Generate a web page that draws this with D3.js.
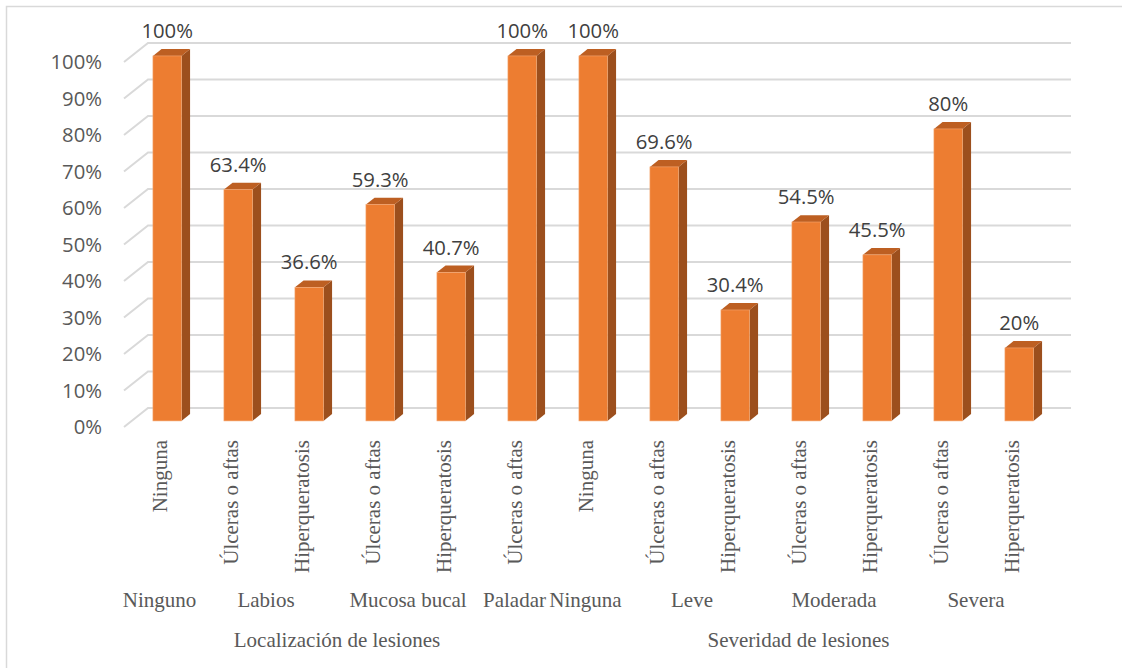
<!DOCTYPE html>
<html>
<head>
<meta charset="utf-8">
<script src="https://cdn.jsdelivr.net/npm/d3@7.9.0/dist/d3.min.js"></script>
<style>
  body { margin: 0; background: #fff; }
  svg { display: block; }
</style>
</head>
<body>
<svg width="1122" height="668"></svg>
<script>
const categories = ['Ninguna', 'Úlceras o aftas', 'Hiperqueratosis', 'Úlceras o aftas', 'Hiperqueratosis',
  'Úlceras o aftas', 'Ninguna', 'Úlceras o aftas', 'Hiperqueratosis', 'Úlceras o aftas',
  'Hiperqueratosis', 'Úlceras o aftas', 'Hiperqueratosis'];
const values = [100, 63.4, 36.6, 59.3, 40.7, 100, 100, 69.6, 30.4, 54.5, 45.5, 80, 20];
const subNames = ['Ninguno', 'Labios', 'Mucosa bucal', 'Paladar', 'Ninguna', 'Leve', 'Moderada', 'Severa'];
const subSizes = [1, 2, 2, 1, 1, 2, 2, 2];
const groupNames = ['Localización de lesiones', 'Severidad de lesiones'];
const groupSizes = [6, 7];
const yTicks = [0, 10, 20, 30, 40, 50, 60, 70, 80, 90, 100];

const svg = d3.select('svg');

// outer frame
svg.append('rect')
  .attr('x', 6.5).attr('y', 6.5).attr('width', 1130).attr('height', 680)
  .attr('fill', 'none').attr('stroke', '#d9d9d9').attr('stroke-width', 1.5);

// 3d depth of floor (front edge -> back wall)
const DX = 24, DY = 19;
const barF0 = 0.32, barF1 = 0.68;

const x = d3.scaleBand()
  .domain(d3.range(categories.length))
  .range([124, 1047]);
const y = d3.scaleLinear().domain([0, 100]).range([427, 62]);

const barW = 28.5;

// gridlines: diagonal on the side wall + horizontal on back wall
const grid = svg.append('g');
yTicks.forEach(t => {
  const yf = y(t);
  grid.append('polyline')
    .attr('points', `${x.range()[0]},${yf} ${x.range()[0] + DX},${yf - DY} ${x.range()[1] + DX},${yf - DY}`)
    .attr('fill', 'none').attr('stroke', '#d9d9d9').attr('stroke-width', 2);
});

// y tick labels
svg.append('g').selectAll('text')
  .data(yTicks)
  .join('text')
  .attr('x', 102).attr('y', d => y(d))
  .attr('dy', '0.35em')
  .attr('text-anchor', 'end')
  .attr('font-family', 'Open Sans, sans-serif')
  .attr('font-size', 20.3)
  .attr('fill', '#595959')
  .text(d => d + '%');

// bars
const bars = svg.append('g');
values.forEach((v, i) => {
  const cx = x(i) + x.bandwidth() / 2;
  const x0 = cx - barW / 2 + barF0 * DX;
  const x1 = x0 + barW;
  const yb = y(0) - barF0 * DY;
  const yt = y(v) - barF0 * DY;
  const dx = (barF1 - barF0) * DX, dy = (barF1 - barF0) * DY;

  bars.append('path')
    .attr('d', `M${x1},${yb}L${x1 + dx},${yb - dy}L${x1 + dx},${yt - dy}L${x1},${yt}Z`)
    .attr('fill', '#9c4f1d');
  bars.append('path')
    .attr('d', `M${x0},${yt}L${x0 + dx},${yt - dy}L${x1 + dx},${yt - dy}L${x1},${yt}Z`)
    .attr('fill', '#bd5f22');
  bars.append('rect')
    .attr('x', x0).attr('y', yt)
    .attr('width', barW).attr('height', yb - yt)
    .attr('fill', '#ed7d31')
    .attr('stroke', '#f3a873').attr('stroke-width', 0.6);

  // data label
  bars.append('text')
    .attr('x', (x0 + x1) / 2)
    .attr('y', yt - dy - 11)
    .attr('text-anchor', 'middle')
    .attr('font-family', 'Open Sans, sans-serif')
    .attr('font-size', 20.3)
    .attr('fill', '#404040')
    .text(v + '%');
});

const serif = 'Liberation Serif, Times New Roman, serif';

// rotated category labels
svg.append('g').selectAll('text')
  .data(categories)
  .join('text')
  .attr('transform', (d, i) => `translate(${x(i) + x.bandwidth() / 2},440) rotate(-90)`)
  .attr('dy', '0.35em')
  .attr('text-anchor', 'end')
  .attr('font-family', serif)
  .attr('font-size', 21)
  .attr('fill', '#595959')
  .text(d => d);

function spanCenter(start, size) {
  return (x(start) + x(start + size - 1) + x.bandwidth()) / 2;
}

let k = 0;
subNames.forEach((name, j) => {
  svg.append('text')
    .attr('x', spanCenter(k, subSizes[j]))
    .attr('y', 607)
    .attr('text-anchor', 'middle')
    .attr('font-family', serif)
    .attr('font-size', 21)
    .attr('fill', '#595959')
    .text(name);
  k += subSizes[j];
});

k = 0;
groupNames.forEach((name, j) => {
  svg.append('text')
    .attr('x', spanCenter(k, groupSizes[j]))
    .attr('y', 647)
    .attr('text-anchor', 'middle')
    .attr('font-family', serif)
    .attr('font-size', 21)
    .attr('fill', '#595959')
    .text(name);
  k += groupSizes[j];
});
</script>
</body>
</html>
